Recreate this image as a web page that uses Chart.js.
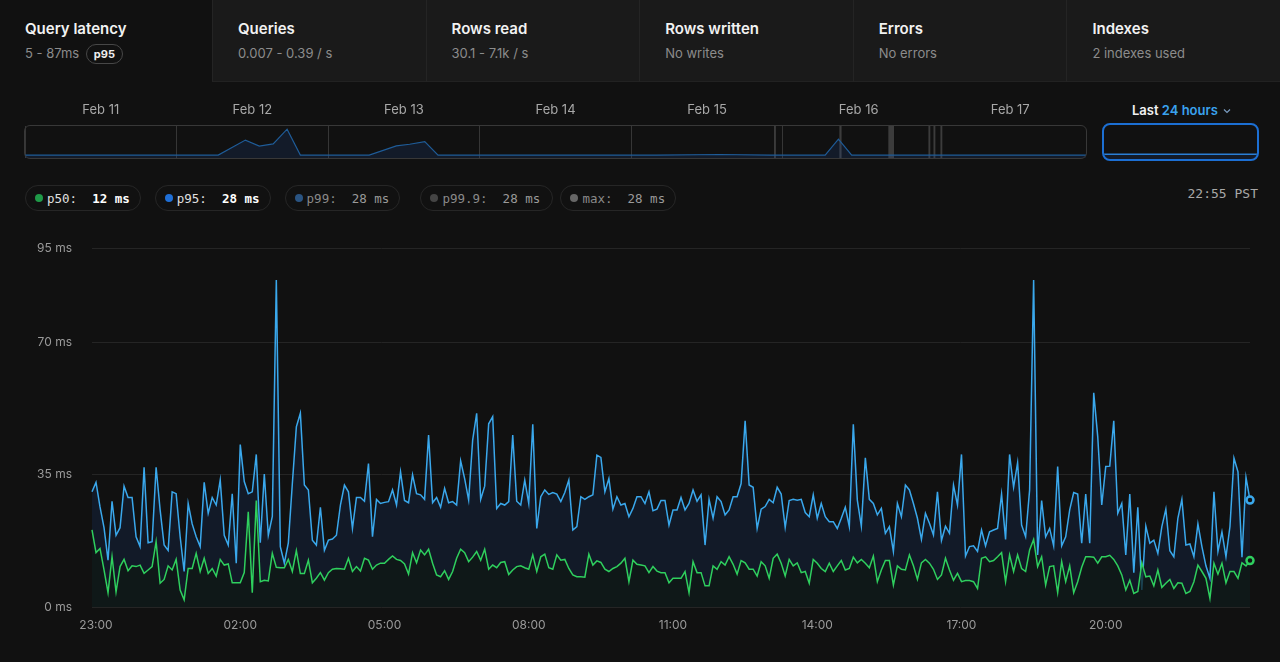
<!DOCTYPE html>
<html>
<head>
<meta charset="utf-8">
<script src="https://cdn.jsdelivr.net/npm/chart.js@4.4.1/dist/chart.umd.min.js"></script>
<style>
  body { margin:0; background:#111111; width:1280px; height:662px; overflow:hidden; position:relative;
         font-family: Inter, 'Noto Sans', sans-serif; }
  .tabs { position:absolute; left:0; top:0; width:1280px; height:82px; display:flex; }
  .tab { flex:1; background:#1a1a1a; border-left:1px solid #242424; border-bottom:1px solid #222;
         padding:19px 0 0 25px; box-sizing:border-box; }
  .tab.active { background:#111111; border-left:none; border-bottom:none; flex:0 0 212px; }
  .tab h3 { margin:0; font-size:15px; font-weight:600; color:#f2f2f2; line-height:20px; }
  .tab p { margin:5px 0 0; font-size:13px; color:#8c8c8c; line-height:18px; }
  .badge { display:inline-block; border:1px solid #474747; border-radius:10px; padding:0 7px; font-size:11px;
           font-weight:700; color:#eee; line-height:18px; margin-left:3px; }
  #spark { position:absolute; left:25px; top:96px; }
  .sparkbox { position:absolute; left:24px; top:125px; width:1063px; height:34px; border:1px solid #383838;
              border-radius:6px; box-sizing:border-box; pointer-events:none; }
  .range { position:absolute; left:1132px; top:102px; font-size:13px; font-weight:600; color:#f2f2f2; }
  .range span { color:#3aa2ee; }
  .lastbox { position:absolute; left:1102px; top:123px; width:157px; height:38px; border:2px solid #1c6fd3;
             border-radius:8px; box-sizing:border-box; overflow:hidden; }
  .pills { position:absolute; left:25px; top:185px; display:flex; }
  .pill { height:26px; box-sizing:border-box; border:1px solid #262626; border-radius:13px; padding:0 10px 0 9px;
          display:flex; align-items:center; font-family:'DejaVu Sans Mono', monospace; font-size:12.5px;
          white-space:pre; color:#8a8a8a; margin-left:14px; }
  .pill:first-child { margin-left:0; }
  .pill:nth-child(4) { margin-left:20px; width:133px; }
  .pill:nth-child(5) { margin-left:7px; }
  .pill i { width:8px; height:8px; border-radius:50%; display:inline-block; margin-right:4px; }
  .pill.on { color:#e0e0e0; }
  .pill.on b { color:#fff; }
  .pill b { font-weight:700; }
  .pill.off b { font-weight:400; color:#9a9a9a; }
  .clock { position:absolute; right:22px; top:185px; font-family:'DejaVu Sans Mono', monospace; font-size:13px;
           color:#a8a8a8; line-height:18px; }
  #main { position:absolute; left:0; top:221px; }
</style>
</head>
<body>
<div class="tabs">
  <div class="tab active"><h3>Query latency</h3><p>5 - 87ms <span class="badge">p95</span></p></div>
  <div class="tab"><h3>Queries</h3><p>0.007 - 0.39 / s</p></div>
  <div class="tab"><h3>Rows read</h3><p>30.1 - 7.1k / s</p></div>
  <div class="tab"><h3>Rows written</h3><p>No writes</p></div>
  <div class="tab"><h3>Errors</h3><p>No errors</p></div>
  <div class="tab"><h3>Indexes</h3><p>2 indexes used</p></div>
</div>

<canvas id="spark" width="1061" height="62"></canvas>
<div class="sparkbox"></div>
<div class="range">Last <span>24 hours</span> <svg width="8" height="6" viewBox="0 0 8 6" style="margin-left:2px;vertical-align:1px"><path d="M1 1.5 L4 4.5 L7 1.5" stroke="#7a9cc0" stroke-width="1.2" fill="none"/></svg></div>
<div class="lastbox"><canvas id="last" width="153" height="34"></canvas></div>

<div class="pills" id="pills"></div>
<div class="clock">22:55 PST</div>

<canvas id="main" width="1280" height="419"></canvas>

<script>
// 5-minute samples, first one at 22:55
const startMinute = -5;
const stepMinutes = 5;

const p95 = [
  30.5, 33, 26.5, 21, 12.4, 28, 19, 21, 32, 29, 29, 18.6, 16, 37, 17, 17.3, 37, 25.7, 16.4, 15,
  30.5, 30, 18.6, 9.4, 27.4, 22, 18.6, 16, 33, 24.8, 29, 27, 33.6, 19, 16.4, 30, 11.6, 43, 33.2, 30,
  30.5, 40.4, 17, 35.2, 19, 24, 86.6, 16, 11.6, 17, 32.7, 47.7, 51.3, 32.3, 31, 17.7, 16.4, 26.4, 15, 17.7,
  18, 19, 27, 32.3, 30.5, 20.8, 29, 29, 28, 38, 18.6, 28.5, 27.4,
  27.7, 27.9, 31, 27, 35.8, 28.2, 27.6, 35, 30, 29.7, 28.5, 45.5, 27.6, 29, 26.4, 31.4, 27.6, 27.9, 27, 38.7,
  34, 28.3, 44.2, 51.3, 28.5, 32, 48.5, 50.4, 26.1, 27.4, 27, 27.9, 45.5, 28, 27, 33.6, 27.4, 48.4, 20.8, 29.2,
  31, 29.8, 30.3, 29.9, 27.9, 30.3, 33.6, 20.4, 21.3, 29.2, 28.5, 29.2, 29.7, 40.2, 39.6, 30.5, 34, 25.9, 29.2, 27,
  27.4, 23.9, 26.1, 29.2, 29.2, 27.4, 30.5, 25.5, 25.9, 28.2, 28.2, 21.7, 25.7,
  25.7, 29, 25.7, 27.4, 31, 28, 29.7, 16.4, 28.5, 23.5, 29.2, 27.9, 24.4, 25.7, 29.2, 29.2, 32.7, 49.3, 32.3, 31.7,
  20.8, 25.9, 26.6, 28.5, 27.6, 31.7, 29.9, 21.1, 28.2, 28.5, 28.3, 28.5, 25, 23.9, 29.7, 23.5, 27.4, 23.9, 22.6, 22.6,
  20.8, 23.5, 26.4, 21.3, 48.4, 28.3, 21.4, 39.5, 28.5, 27.4, 24.4, 26.1, 19.5, 21.3, 14.7, 27.4, 23.9, 32.3, 31, 27.4,
  23.5, 17.9, 24.8, 22.2, 19.1, 30.5, 17.6, 21.4, 19.5, 32.3, 27, 40.4, 13.5,
  16, 16.2, 14.7, 20.4, 16.2, 19.9, 20.4, 20.8, 29.9, 17.9, 40.4, 31.7, 38.2, 21.7, 18.6, 31, 86.6, 13.8, 28.2, 18.6,
  20.8, 16.2, 37.2, 16.2, 18.6, 25.7, 30.3, 29.9, 16.9, 29.9, 16.9, 56.7, 45.1, 27, 37.2, 37.3, 49.3, 24.8, 27.4, 13.8,
  29.9, 9.1, 26.4, 4.5, 21.4, 16.9, 17.7, 14.2, 21.3, 25.9, 14.9, 13.3, 23.5, 28.5, 16.4, 16.7, 13.3, 22, 16, 10.9,
  7.6, 30.5, 14.7, 19.9, 13.3, 21.3, 39.4, 35.8, 13.2, 34.3, 28.3
];

const p50 = [
  20.4, 14.4, 15.5, 9.8, 3.8, 13.3, 4, 10.7, 12.6, 9.6, 10.9, 10.7, 11.1, 8.9, 9.8, 10.7, 17.3, 6.3, 7.3, 10.9,
  9.8, 12.6, 4.5, 1.9, 10.2, 10.2, 14.2, 9.4, 12.9, 8.9, 10.2, 8.2, 12.6, 11.1, 11.4, 6.4, 6.4, 6.4, 9.1, 25.2,
  3.8, 28.2, 6.7, 7.1, 6.9, 14.2, 10.5, 10.4, 10.4, 12.6, 9.4, 14.9, 8.9, 8.9, 12.4, 6.4, 7.6, 9.1, 7.1, 9.1,
  10, 10.2, 10.1, 10, 12.9, 9.4, 10.7, 9.5, 12.9, 12.4, 10, 11.1, 11.6,
  11.6, 12.6, 13.5, 12.6, 12.3, 11.4, 8.7, 14.4, 11.7, 15.1, 13.8, 15.3, 11.6, 8.5, 8, 9.6, 7.3, 9.4, 12.9, 15.3,
  14.4, 12, 13.2, 14.7, 12.4, 15.3, 10, 11.1, 10.4, 11.8, 12, 8.6, 9.8, 10.7, 10.9, 10.4, 10, 13.8, 9.4, 13.3,
  14, 10.4, 10, 13.8, 12.4, 12.6, 10.2, 8.5, 8, 8, 7.9, 14, 11.1, 12.2, 11.8, 10, 9.4, 10.2, 10.7, 11.6,
  12.9, 6.7, 12.4, 11.3, 11.1, 10.9, 9.1, 10.7, 9.5, 9.1, 9.1, 6.4, 7.6,
  7.6, 7.6, 9.4, 3.8, 12, 9.1, 9.1, 5.6, 5.6, 10.9, 10, 12, 11.1, 13.3, 11.3, 8.7, 12.3, 11.7, 10, 10,
  8.2, 12, 10.9, 7.6, 12.9, 14, 11.6, 8.2, 12.6, 10.9, 11.7, 9.1, 9.4, 6.3, 12.6, 11.6, 10.2, 9.4, 11.6, 9.4,
  10.9, 12.3, 9.8, 10.2, 13.2, 11.7, 12.6, 11.6, 10.4, 13.5, 6.7, 9.8, 12.3, 12.3, 5.8, 10.9, 10, 9.8, 13.8, 10.9,
  7.3, 11.7, 12.6, 11.6, 10, 7.3, 8.5, 12.9, 9.8, 7.1, 8.9, 6.7, 7,
  7, 6.7, 4.9, 12.9, 13.3, 12, 12.3, 13.3, 14.4, 6.7, 13.8, 9.4, 13.8, 10.2, 9.4, 15.1, 17.9, 10.7, 13.3, 5.8,
  10.7, 10.9, 3.8, 12, 6.7, 10.9, 3.8, 6.7, 10.5, 13.3, 13.3, 13.2, 11.6, 13.3, 13.3, 13.7, 12.6, 10.9, 8.5, 4.5,
  7.1, 3.6, 4.1, 11.7, 8, 8.2, 5.6, 9.8, 5.2, 6.3, 7.3, 4.9, 6.4, 6.3, 3.6, 4.1, 6.7, 11.1, 9.4, 7.6,
  2.3, 11.6, 8.7, 11.6, 6.4, 9.4, 9.4, 7.6, 11.7, 10.9, 12.3
];

const tickMinutes = [0, 180, 360, 540, 720, 900, 1080, 1260];
const tickLabels = ['23:00', '02:00', '05:00', '08:00', '11:00', '14:00', '17:00', '20:00'];
const yTicks = [0, 35, 70, 95];

// legend pills
const pillNames = ['p50', 'p95', 'p99', 'p99.9', 'max'];
const pillColors = ['#1f9a48', '#1f6fd6', '#2a5482', '#444444', '#666666'];
const pillValues = [Math.round(p50[p50.length - 1]), Math.round(p95[p95.length - 1]), 28, 28, 28];

// week overview (hours since Feb 11 00:00)
const dayTicks = [0, 24, 48, 72, 96, 120, 144, 168];
const dayLabels = ['Feb 11', 'Feb 12', 'Feb 13', 'Feb 14', 'Feb 15', 'Feb 16', 'Feb 17'];
const sparkHours = [0, 30.6, 34.9, 37.1, 39.3, 41.5, 43.6, 54.5, 58.8, 60.9, 63.3, 65.4, 100, 110, 118, 126.7, 128.8, 130.9, 168];
const sparkValues = [9, 9, 56, 37, 44, 90, 9, 9, 38, 43, 51, 9, 9, 11, 9, 9, 59, 9, 9];
const gapHours = [[118.6, 118.9], [128.95, 129.3], [136.7, 137.6], [143.05, 143.35], [143.85, 144.15], [144.95, 145.25]];
const lastHours = [0, 24];
const lastValues = [14, 14];

const pillsEl = document.getElementById('pills');
pillNames.forEach((n, i) => {
  const d = document.createElement('div');
  d.className = 'pill ' + (i < 2 ? 'on' : 'off');
  d.innerHTML = '<i style="background:' + pillColors[i] + '"></i>' + n + ':  <b>' + pillValues[i] + ' ms</b>';
  pillsEl.appendChild(d);
});

Chart.defaults.font.family = 'Inter, "Noto Sans", sans-serif';

const gapMarkers = {
  id: 'gapMarkers',
  beforeDatasetsDraw(chart) {
    const { ctx, chartArea, scales } = chart;
    ctx.save();
    ctx.fillStyle = '#3c3c3c';
    gapHours.forEach(([a, b]) => {
      const x1 = scales.x.getPixelForValue(a);
      const x2 = scales.x.getPixelForValue(b);
      ctx.fillRect(x1, chartArea.top, Math.max(1, x2 - x1), chartArea.bottom - chartArea.top);
    });
    ctx.restore();
  }
};

new Chart(document.getElementById('spark'), {
  type: 'line',
  data: {
    datasets: [{
      data: sparkHours.map((h, i) => ({ x: h, y: sparkValues[i] })),
      borderColor: '#1f5c98',
      borderWidth: 1.2,
      backgroundColor: 'rgba(30,80,170,0.16)',
      fill: 'origin',
      pointRadius: 0,
      tension: 0
    }]
  },
  options: {
    responsive: false, animation: false,
    layout: { padding: 0 },
    plugins: { legend: { display: false }, tooltip: { enabled: false } },
    scales: {
      x: {
        type: 'linear', position: 'top', min: 0, max: 168,
        afterBuildTicks: s => { s.ticks = dayTicks.map(v => ({ value: v })); },
        afterFit: s => { s.height = 30; s.paddingLeft = 0; s.paddingRight = 0; },
        grid: { color: '#363636', drawTicks: false },
        border: { display: false },
        ticks: {
          color: '#a8a8a8', font: { size: 13 }, padding: 8, maxRotation: 0, autoSkip: false,
          labelOffset: 75.8,
          callback: (v, i) => dayLabels[i] || ''
        }
      },
      y: { min: 0, max: 100, display: false }
    }
  },
  plugins: [gapMarkers]
});

new Chart(document.getElementById('last'), {
  type: 'line',
  data: {
    datasets: [{
      data: lastHours.map((h, i) => ({ x: h, y: lastValues[i] })),
      borderColor: '#2a7fd6', borderWidth: 1.5, pointRadius: 0,
      fill: 'origin', backgroundColor: 'rgba(30,80,170,0.16)'
    }]
  },
  options: {
    responsive: false, animation: false,
    plugins: { legend: { display: false }, tooltip: { enabled: false } },
    scales: {
      x: { type: 'linear', min: 0, max: 24, display: false },
      y: { min: 0, max: 100, display: false }
    }
  }
});

const toPoints = arr => arr.map((v, i) => ({ x: startMinute + i * stepMinutes, y: v }));

new Chart(document.getElementById('main'), {
  type: 'line',
  data: {
    datasets: [
      {
        label: 'p50',
        data: toPoints(p50),
        borderColor: '#2fcf5e',
        borderWidth: 1.5,
        fill: 'origin',
        backgroundColor: 'rgba(14,24,18,0.72)',
        pointRadius: ctx => ctx.dataIndex === p50.length - 1 ? 3.5 : 0,
        pointBorderWidth: 2.5,
        pointBorderColor: '#2fcf5e',
        pointBackgroundColor: '#111111',
        tension: 0,
        clip: false
      },
      {
        label: 'p95',
        data: toPoints(p95),
        borderColor: '#3aa8ec',
        borderWidth: 1.5,
        fill: 'origin',
        backgroundColor: 'rgba(35,95,210,0.12)',
        pointRadius: ctx => ctx.dataIndex === p95.length - 1 ? 3.5 : 0,
        pointBorderWidth: 2.5,
        pointBorderColor: '#3aa8ec',
        pointBackgroundColor: '#111111',
        tension: 0,
        clip: false
      }
    ]
  },
  options: {
    responsive: false, animation: false,
    layout: { padding: { top: 10, right: 30, left: 0, bottom: 0 } },
    plugins: { legend: { display: false }, tooltip: { enabled: false } },
    scales: {
      x: {
        type: 'linear', min: startMinute, max: startMinute + (p95.length - 1) * stepMinutes,
        afterBuildTicks: s => { s.ticks = tickMinutes.map(v => ({ value: v })); },
        afterFit: s => { s.height = 33; },
        grid: { display: false },
        border: { display: false },
        ticks: {
          color: '#9a9a9a', font: { size: 12 }, padding: 3, maxRotation: 0, autoSkip: false,
          callback: (v, i) => tickLabels[i]
        }
      },
      y: {
        min: 0, max: 95,
        afterBuildTicks: s => { s.ticks = yTicks.map(v => ({ value: v })); },
        afterFit: s => { s.width = 92; },
        grid: { color: '#252525', drawTicks: false },
        border: { display: false },
        ticks: { color: '#9a9a9a', font: { size: 12 }, padding: 20, callback: v => v + ' ms' }
      }
    }
  }
});
</script>
</body>
</html>
